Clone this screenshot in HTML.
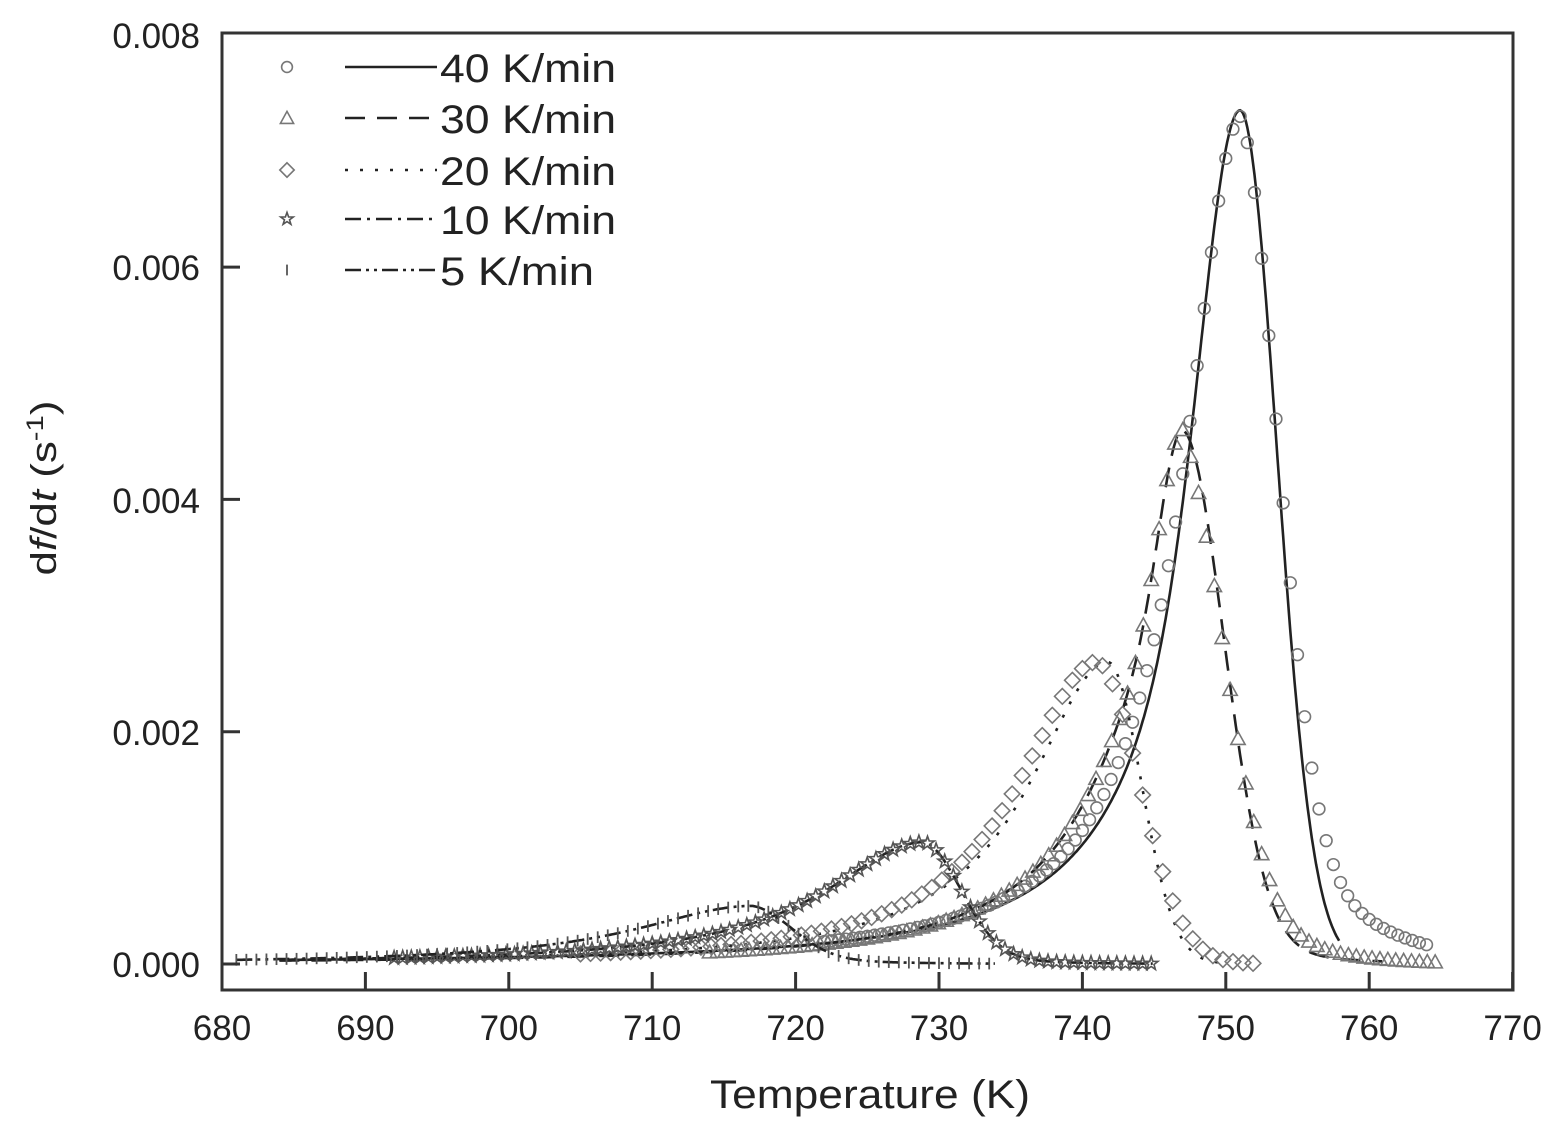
<!DOCTYPE html>
<html><head><meta charset="utf-8"><style>
html,body{margin:0;padding:0;background:#fff}
svg{display:block}
text{font-family:"Liberation Sans",sans-serif;fill:#222}
</style></head><body>
<svg id="s" width="1560" height="1142" viewBox="0 0 1560 1142" xmlns="http://www.w3.org/2000/svg">
<rect width="1560" height="1142" fill="#fff"/>
<g id="plot"></g>
<rect x="222" y="33" width="1291" height="957" fill="none" stroke="#333" stroke-width="3"/>
<g id="ticks" stroke="#333" stroke-width="3"></g>
<g font-size="35" text-anchor="end">
<text x="200" y="977">0.000</text>
<text x="200" y="745">0.002</text>
<text x="200" y="513">0.004</text>
<text x="200" y="280">0.006</text>
<text x="200" y="48">0.008</text>
</g>
<g id="xl" font-size="35" text-anchor="middle"></g>
<text x="710" y="1108" font-size="40" textLength="320" lengthAdjust="spacingAndGlyphs">Temperature (K)</text>
<text transform="translate(56,488) rotate(-90) scale(1.22,1)" font-size="36" text-anchor="middle">d<tspan font-style="italic">f</tspan>/d<tspan font-style="italic">t</tspan> (s<tspan font-size="24" dy="-13">-1</tspan><tspan dy="13">)</tspan></text>
<g id="leg"></g>
</svg>
<script>
var NS="http://www.w3.org/2000/svg";
function X(T){return 222+(T-680)*14.34;}
function Y(v){return 964-v*116150;}
function el(p,tag,a){var e=document.createElementNS(NS,tag);for(var k in a)e.setAttribute(k,a[k]);p.appendChild(e);return e;}
var ticks=document.getElementById('ticks'),xl=document.getElementById('xl');
for(var t=680;t<=770;t+=10){var x=X(t);el(ticks,'line',{x1:x,x2:x,y1:990,y2:972});var tx=el(xl,'text',{x:x,y:1040});tx.textContent=t;}
[0,0.002,0.004,0.006].forEach(function(v){el(ticks,'line',{x1:222,x2:240,y1:Y(v),y2:Y(v)});});
function mk(A,Tp,wl,wr,tailA,tailW,gw,gl){gw=gw||0;gl=gl||3;return function(T){if(T<=Tp){var d=(Tp-T)/wl;var lo=1/(1+d*d);var g=(Tp-T)/gl;return A*((1-gw)*lo+gw*Math.exp(-g*g/2));}var d=(T-Tp)/wr;return A*((1-tailA)*Math.exp(-d*d/2)+tailA*Math.exp(-(T-Tp)/tailW));};}
var series=[
 {f:mk(0.00735,751,5.5,2.55,0.01,4,0.3,2.5),t0:684,t1:758,dash:'',mf:mk(0.0073,751.1,4.8,2.6,0.3,5),m0:722,m1:764,st:0.5,m:'circle'},
 {f:mk(0.0046,747,6,2.9,0.08,5,0.3,1.5),t0:684,t1:761,dash:'20,12',mf:mk(0.0046,747,6,3,0.3,4,0.3,1.5),m0:714,m1:765,st:0.55,m:'tri'},
 {f:mk(0.0026,741.8,6.7,2.3,0.02,3),t0:684,t1:750,dash:'3,12',mf:mk(0.0026,741,6.7,3,0.03,3),m0:705,m1:752.4,st:0.7,m:'dia'},
 {f:mk(0.00105,729,8.5,2.6,0.15,4),t0:684,t1:745,dash:'16,6,3,6',mf:mk(0.00105,729,8.5,2.6,0.15,4),m0:692,m1:745,st:0.6,m:'star'},
 {f:mk(0.0005,717,10,2.8,0.2,5),t0:681,t1:734,dash:'16,5,3,5,3,5',mf:mk(0.0005,717,10,2.8,0.2,5),m0:681,m1:734,st:0.7,m:'plus'}
];
var plot=document.getElementById('plot');
function marker(p,type,x,y,s){
 var st={fill:'none',stroke:'#777','stroke-width':1.6};
 if(type=='circle'){st.cx=x;st.cy=y;st.r=s*0.45;el(p,'circle',st);}
 else if(type=='tri'){st.points=(x)+','+(y-s*0.55)+' '+(x-s*0.55)+','+(y+s*0.45)+' '+(x+s*0.55)+','+(y+s*0.45);el(p,'polygon',st);}
 else if(type=='dia'){st.points=x+','+(y-s*0.6)+' '+(x+s*0.6)+','+y+' '+x+','+(y+s*0.6)+' '+(x-s*0.6)+','+y;el(p,'polygon',st);}
 else if(type=='star'){var pts=[];for(var i=0;i<10;i++){var r=i%2?s*0.22:s*0.55,a=-Math.PI/2+i*Math.PI/5;pts.push((x+r*Math.cos(a)).toFixed(1)+','+(y+r*Math.sin(a)).toFixed(1));}st.points=pts.join(' ');st.stroke='#555';el(p,'polygon',st);}
 else {el(p,'line',{x1:x,x2:x,y1:y-s*0.45,y2:y+s*0.45,stroke:'#555','stroke-width':1.8});}
}
series.forEach(function(s){
 var d='';for(var T=s.t0;T<=s.t1;T+=0.1){d+=(d?'L':'M')+X(T).toFixed(1)+','+Y(s.f(T)).toFixed(1);}
 el(plot,'path',{d:d,fill:'none',stroke:'#222','stroke-width':2.6,'stroke-dasharray':s.dash});
 for(var T=s.m0;T<=s.m1;T+=s.st){marker(plot,s.m,X(T),Y(s.mf(T)),13);}
});
var leg=document.getElementById('leg');
var names=['40 K/min','30 K/min','20 K/min','10 K/min','5 K/min'];
var lens=[176,176,176,176,154];
var ys=[67,118,170,219,270];
series.forEach(function(s,i){
 marker(leg,s.m,287,ys[i],12);
 el(leg,'line',{x1:345,x2:437,y1:ys[i],y2:ys[i],stroke:'#222','stroke-width':2.6,'stroke-dasharray':s.dash});
 var t=el(leg,'text',{x:440,y:ys[i]+15,'font-size':40,textLength:lens[i],lengthAdjust:'spacingAndGlyphs'});t.textContent=names[i];
});
</script>
</body></html>
